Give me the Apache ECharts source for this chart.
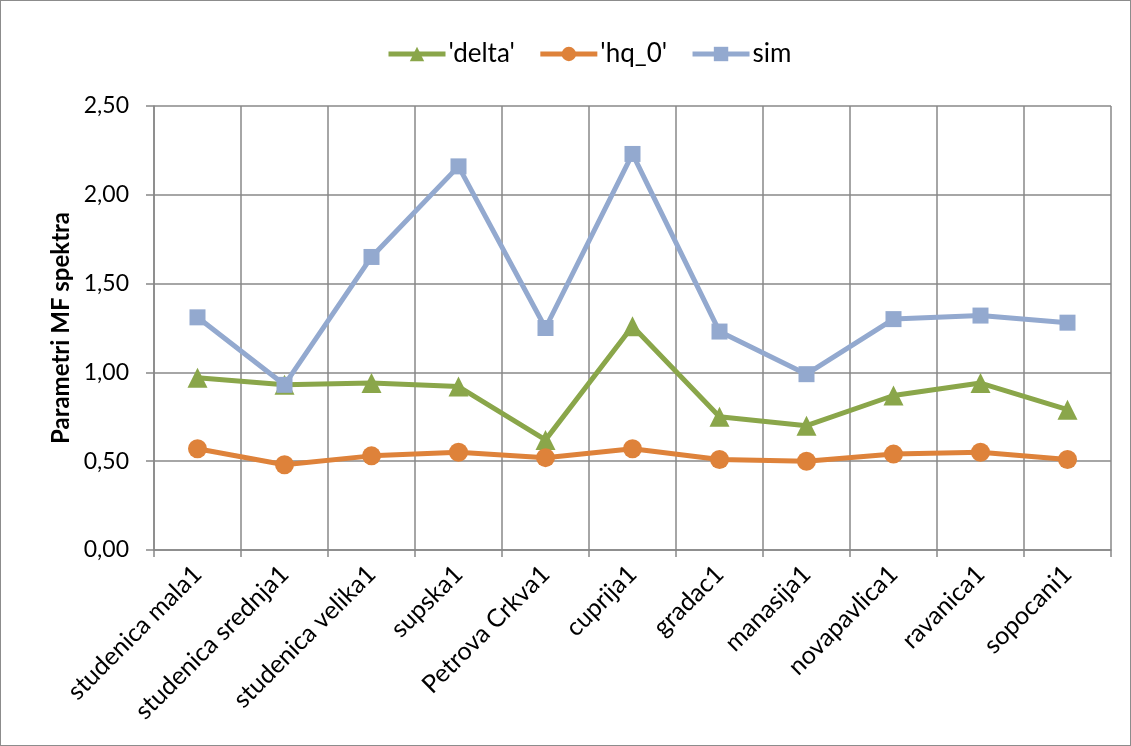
<!DOCTYPE html>
<html><head><meta charset="utf-8">
<script src="https://cdn.jsdelivr.net/npm/echarts@6/dist/echarts.min.js"></script>
<style>html,body{margin:0;padding:0;background:#fff}#c{width:1131px;height:746px;box-sizing:border-box;border:1px solid #8c8c8c}</style>
</head><body><div id="c"></div>
<script>
const categories = ['studenica mala1','studenica srednja1','studenica velika1','supska1','Petrova Crkva1','cuprija1','gradac1','manasija1','novapavlica1','ravanica1','sopocani1'];
const delta = [0.97,0.93,0.94,0.92,0.62,1.26,0.75,0.70,0.87,0.94,0.79];
const hq0 = [0.57,0.48,0.53,0.55,0.52,0.57,0.51,0.50,0.54,0.55,0.51];
const sim = [1.31,0.93,1.65,2.16,1.25,2.23,1.23,0.99,1.30,1.32,1.28];
const yTicks = [0, 0.5, 1, 1.5, 2, 2.5];

const chart = echarts.init(document.getElementById('c'));
const font = 'Lato, "Open Sans", sans-serif';
chart.setOption({
  animation: false,
  textStyle: { fontFamily: font },
  legend: {
    top: 35, left: 380, itemGap: 23, itemWidth: 57, itemHeight: 18,
    lineStyle: { width: 5 },
    textStyle: { fontSize: 26, color: '#000', fontFamily: font, padding: [0, 0, 0, -2] },
    data: ["'delta'", "'hq_0'", 'sim']
  },
  grid: { left: 153, right: 19, top: 105, bottom: 195, containLabel: false },
  xAxis: {
    type: 'category', data: categories, boundaryGap: true,
    axisLine: { lineStyle: { color: '#888', width: 1.5 } },
    axisTick: { show: true, length: 7, lineStyle: { color: '#888', width: 1.5 } },
    splitLine: { show: true, lineStyle: { color: '#888', width: 1.5 } },
    axisLabel: { rotate: 45, fontSize: 25, color: '#000', margin: 20, interval: 0, fontFamily: font }
  },
  yAxis: {
    type: 'value', min: yTicks[0], max: yTicks[yTicks.length - 1], interval: 0.5,
    name: 'Parametri MF spektra', nameLocation: 'middle', nameGap: 81, nameRotate: 90,
    nameTextStyle: { fontSize: 24, fontWeight: 'bold', color: '#000', fontFamily: font },
    axisLine: { show: true, lineStyle: { color: '#888', width: 1.5 } },
    axisTick: { show: true, length: 8, lineStyle: { color: '#888', width: 1.5 } },
    splitLine: { lineStyle: { color: '#888', width: 1.5 } },
    axisLabel: { fontSize: 23, color: '#000', margin: 25, fontFamily: font,
      formatter: v => v.toFixed(2).replace('.', ',') }
  },
  series: [
    { name: "'delta'", type: 'line', data: delta, symbol: 'triangle', symbolSize: 20,
      lineStyle: { color: '#8aa64a', width: 5 }, itemStyle: { color: '#8aa64a' } },
    { name: "'hq_0'", type: 'line', data: hq0, symbol: 'circle', symbolSize: 19,
      lineStyle: { color: '#de823a', width: 5 }, itemStyle: { color: '#de823a' } },
    { name: 'sim', type: 'line', data: sim, symbol: 'rect', symbolSize: 16,
      lineStyle: { color: '#93a9cf', width: 5 }, itemStyle: { color: '#93a9cf' } }
  ]
});
</script></body></html>
